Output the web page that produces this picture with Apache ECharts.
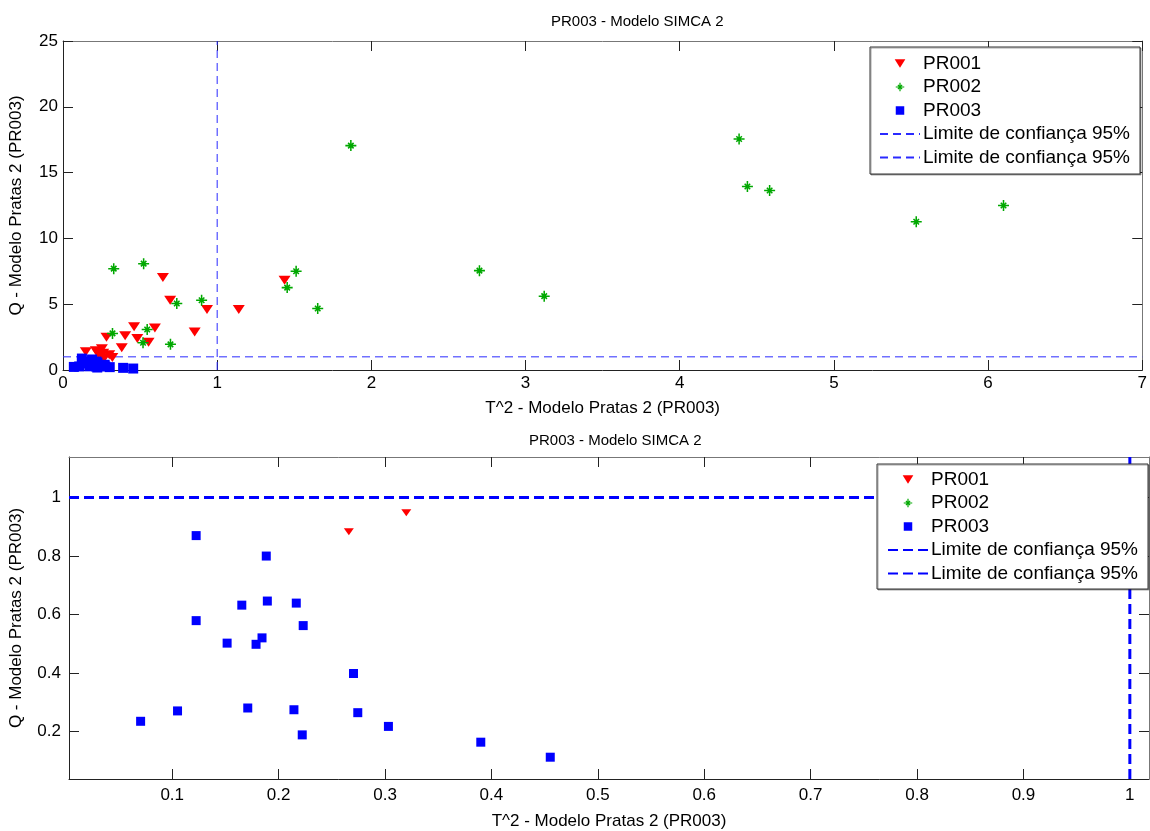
<!DOCTYPE html>
<html><head><meta charset="utf-8">
<script src="https://cdn.jsdelivr.net/npm/echarts@6/dist/echarts.min.js"></script>
<style>html,body{margin:0;padding:0;background:#fff}#c{width:1150px;height:831px}</style>
</head><body><div id="c"></div>
<script>
// ---- data ----
const pr001T = [0.648,0.695,0.934,1.140,1.437,0.461,0.596,0.282,0.403,0.482,0.555,0.854,0.381,0.148,0.213,0.252,0.261,0.266,0.320,0.230,0.300];
const pr001Q = [7.02,5.30,4.60,4.60,6.82,3.28,3.20,2.48,2.60,2.40,2.10,2.88,1.69,1.39,1.46,1.61,1.27,0.883,0.948,1.20,1.15];
const pr002T = [0.329,0.523,0.738,0.899,0.321,0.546,0.519,0.697,1.512,1.454,1.652,1.867,2.701,3.121,4.385,4.439,4.583,5.534,6.10];
const pr002Q = [7.70,8.08,5.05,5.30,2.78,3.08,2.07,1.95,7.50,6.26,4.67,17.05,7.55,5.61,17.55,13.94,13.64,11.27,12.5];
const pr003T = [0.1225,0.1884,0.1654,0.1894,0.2166,0.1225,0.2231,0.1516,0.1844,0.1788,0.2704,0.0703,0.105,0.171,0.2144,0.2744,0.2222,0.3032,0.390,0.4553];
const pr003Q = [0.870,0.800,0.632,0.646,0.639,0.579,0.562,0.502,0.520,0.498,0.398,0.2345,0.270,0.280,0.274,0.264,0.188,0.217,0.163,0.1116];
const tLimit = 1;   // T^2 95% confidence limit
const qLimit = 1;   // Q 95% confidence limit
const topXTicks = [0,1,2,3,4,5,6,7];
const topYTicks = [0,5,10,15,20,25];
const botXTicks = [0.1,0.2,0.3,0.4,0.5,0.6,0.7,0.8,0.9,1];
const botYTicks = [0.2,0.4,0.6,0.8,1];
const titleText = 'PR003 - Modelo SIMCA 2';
const xName = 'T^2 - Modelo Pratas 2 (PR003)';
const yName = 'Q - Modelo Pratas 2 (PR003)';
const classNames = ['PR001','PR002','PR003'];
const limitName = 'Limite de confiança 95%';

// ---- styling ----
const FONT = 'Liberation Sans, Arial, Helvetica, sans-serif';
const triPath = 'path://M0,0L10,0L5,8Z';
const sqPath = 'path://M0,0L10,0L10,10L0,10Z';
const starPath = 'path://M4.3,0L5.7,0L5.7,10L4.3,10Z M0,4.3L10,4.3L10,5.7L0,5.7Z M2,3L3,2L8,7L7,8Z M7,2L8,3L3,8L2,7Z';
const RED = '#ff0000', GREEN = '#00a800', BLUE = '#0000ff';

const zip = (a, b) => a.map((v, i) => [v, b[i]]);
const fmt = v => String(+(+v).toFixed(3));

const ranges = [
  {x: [0, 7], y: [0, 25], xt: topXTicks, yt: topYTicks},
  {x: [0.003, 1.018], y: [0.037, 1.139], xt: botXTicks, yt: botYTicks}
];

const xAxes = [], yAxes = [];
ranges.forEach((r, g) => {
  const tick = vals => ({show: true, inside: true, length: 10, customValues: vals, lineStyle: {color: '#222'}});
  xAxes.push({
    gridIndex: g, type: 'value', position: 'bottom', min: r.x[0], max: r.x[1],
    axisLine: {show: true, onZero: false, lineStyle: {color: '#222', width: 1}},
    axisTick: tick(r.xt),
    axisLabel: {customValues: r.xt, formatter: fmt, fontFamily: FONT, fontSize: 17, color: '#000', margin: g === 0 ? 5 : 8},
    splitLine: {show: false},
    name: xName, nameLocation: 'middle', nameGap: g === 0 ? 30 : 34,
    nameTextStyle: {fontFamily: FONT, fontSize: 17, color: '#000'}
  });
  xAxes.push({
    gridIndex: g, type: 'value', position: 'top', min: r.x[0], max: r.x[1],
    axisLine: {show: true, onZero: false, lineStyle: {color: '#777', width: 1}},
    axisTick: tick(r.xt), axisLabel: {show: false}, splitLine: {show: false}
  });
  yAxes.push({
    gridIndex: g, type: 'value', position: 'left', min: r.y[0], max: r.y[1],
    axisLine: {show: true, onZero: false, lineStyle: {color: '#222', width: 1}},
    axisTick: tick(r.yt),
    axisLabel: {customValues: r.yt, formatter: fmt, fontFamily: FONT, fontSize: 17, color: '#000', margin: g === 0 ? 5 : 8},
    splitLine: {show: false},
    name: yName, nameLocation: 'middle', nameGap: g === 0 ? 38 : 44,
    nameTextStyle: {fontFamily: FONT, fontSize: 17, color: '#000'}
  });
  yAxes.push({
    gridIndex: g, type: 'value', position: 'right', min: r.y[0], max: r.y[1],
    axisLine: {show: true, onZero: false, lineStyle: {color: '#777', width: 1}},
    axisTick: tick(r.yt), axisLabel: {show: false}, splitLine: {show: false}
  });
});

// names per panel (trailing spaces keep legend entries distinct; trimmed in legend text)
const panelNames = [0, 1].map(g => {
  const s = ' '.repeat(g * 3);
  return [classNames[0] + s, classNames[1] + s, classNames[2] + s, limitName + ' '.repeat(g * 3 + 1), limitName + ' '.repeat(g * 3 + 2)];
});

const series = [];
const sty = [
  {tri: [12, 9], sq: 10, star: 11, lw: 1, dash: [8, 5], lc: '#2a2aff'},
  {tri: [10, 7], sq: 9, star: 9, lw: 3, dash: [10, 5], lc: '#0000ff'}
];
[0, 1].forEach(g => {
  const n = panelNames[g], s = sty[g], r = ranges[g];
  const ax = {xAxisIndex: g * 2, yAxisIndex: g * 2};
  series.push({type: 'scatter', name: n[0], ...ax, data: zip(pr001T, pr001Q), symbol: triPath, symbolSize: s.tri, itemStyle: {color: RED, opacity: 1}, clip: true, z: 3});
  series.push({type: 'scatter', name: n[1], ...ax, data: zip(pr002T, pr002Q), symbol: starPath, symbolSize: s.star, itemStyle: {color: GREEN, opacity: 1}, clip: true, z: 3});
  series.push({type: 'scatter', name: n[2], ...ax, data: zip(pr003T, pr003Q), symbol: sqPath, symbolSize: s.sq, itemStyle: {color: BLUE, opacity: 1}, clip: true, z: 3});
  series.push({type: 'line', name: n[3], ...ax, data: [[tLimit, r.y[0]], [tLimit, r.y[1]]], symbol: 'none', showSymbol: false, lineStyle: {color: s.lc, width: s.lw, type: s.dash}, itemStyle: {color: s.lc}, z: 2, silent: true});
  series.push({type: 'line', name: n[4], ...ax, data: [[r.x[0], qLimit], [r.x[1], qLimit]], symbol: 'none', showSymbol: false, lineStyle: {color: s.lc, width: s.lw, type: s.dash}, itemStyle: {color: s.lc}, z: 2, silent: true});
});

const legendBase = (g) => ({
  orient: 'vertical', selectedMode: false,
  data: panelNames[g].map((nm, i) => i < 3
    ? {name: nm, icon: [triPath, starPath, sqPath][i]}
    : {name: nm, itemStyle: {color: 'rgba(0,0,0,0)', borderWidth: 0, opacity: 0}}),
  formatter: nm => nm.trim(),
  itemWidth: 40, itemHeight: 8.5, itemGap: 4.5,
  textStyle: {fontFamily: FONT, fontSize: 19, lineHeight: 19, color: '#000', padding: [0, 0, 0, -2]},
  backgroundColor: '#fff', borderColor: '#333', borderWidth: 1,
  shadowColor: 'rgba(0,0,0,0.35)', shadowOffsetX: 1, shadowOffsetY: 1, shadowBlur: 0,
  z: 10
});

const option = {
  animation: false,
  backgroundColor: '#fff',
  title: [
    {text: titleText, left: 546, top: 9, textStyle: {fontFamily: FONT, fontSize: 15, fontWeight: 'normal', color: '#000'}},
    {text: titleText, left: 524, top: 428, textStyle: {fontFamily: FONT, fontSize: 15, fontWeight: 'normal', color: '#000'}}
  ],
  grid: [
    {left: 62, right: 2, top: 41, bottom: 461, containLabel: false},
    {left: 66, right: 1, top: 457, bottom: 45, containLabel: false}
  ],
  xAxis: xAxes,
  yAxis: yAxes,
  legend: [
    Object.assign(legendBase(0), {left: 870, top: 47, padding: [7, 10, 7, 9]}),
    Object.assign(legendBase(1), {left: 877, top: 464, padding: [6, 10, 6, 10]})
  ],
  series: series
};

const chart = echarts.init(document.getElementById('c'), null, {renderer: 'canvas'});
chart.setOption(option);
</script>
</body></html>
